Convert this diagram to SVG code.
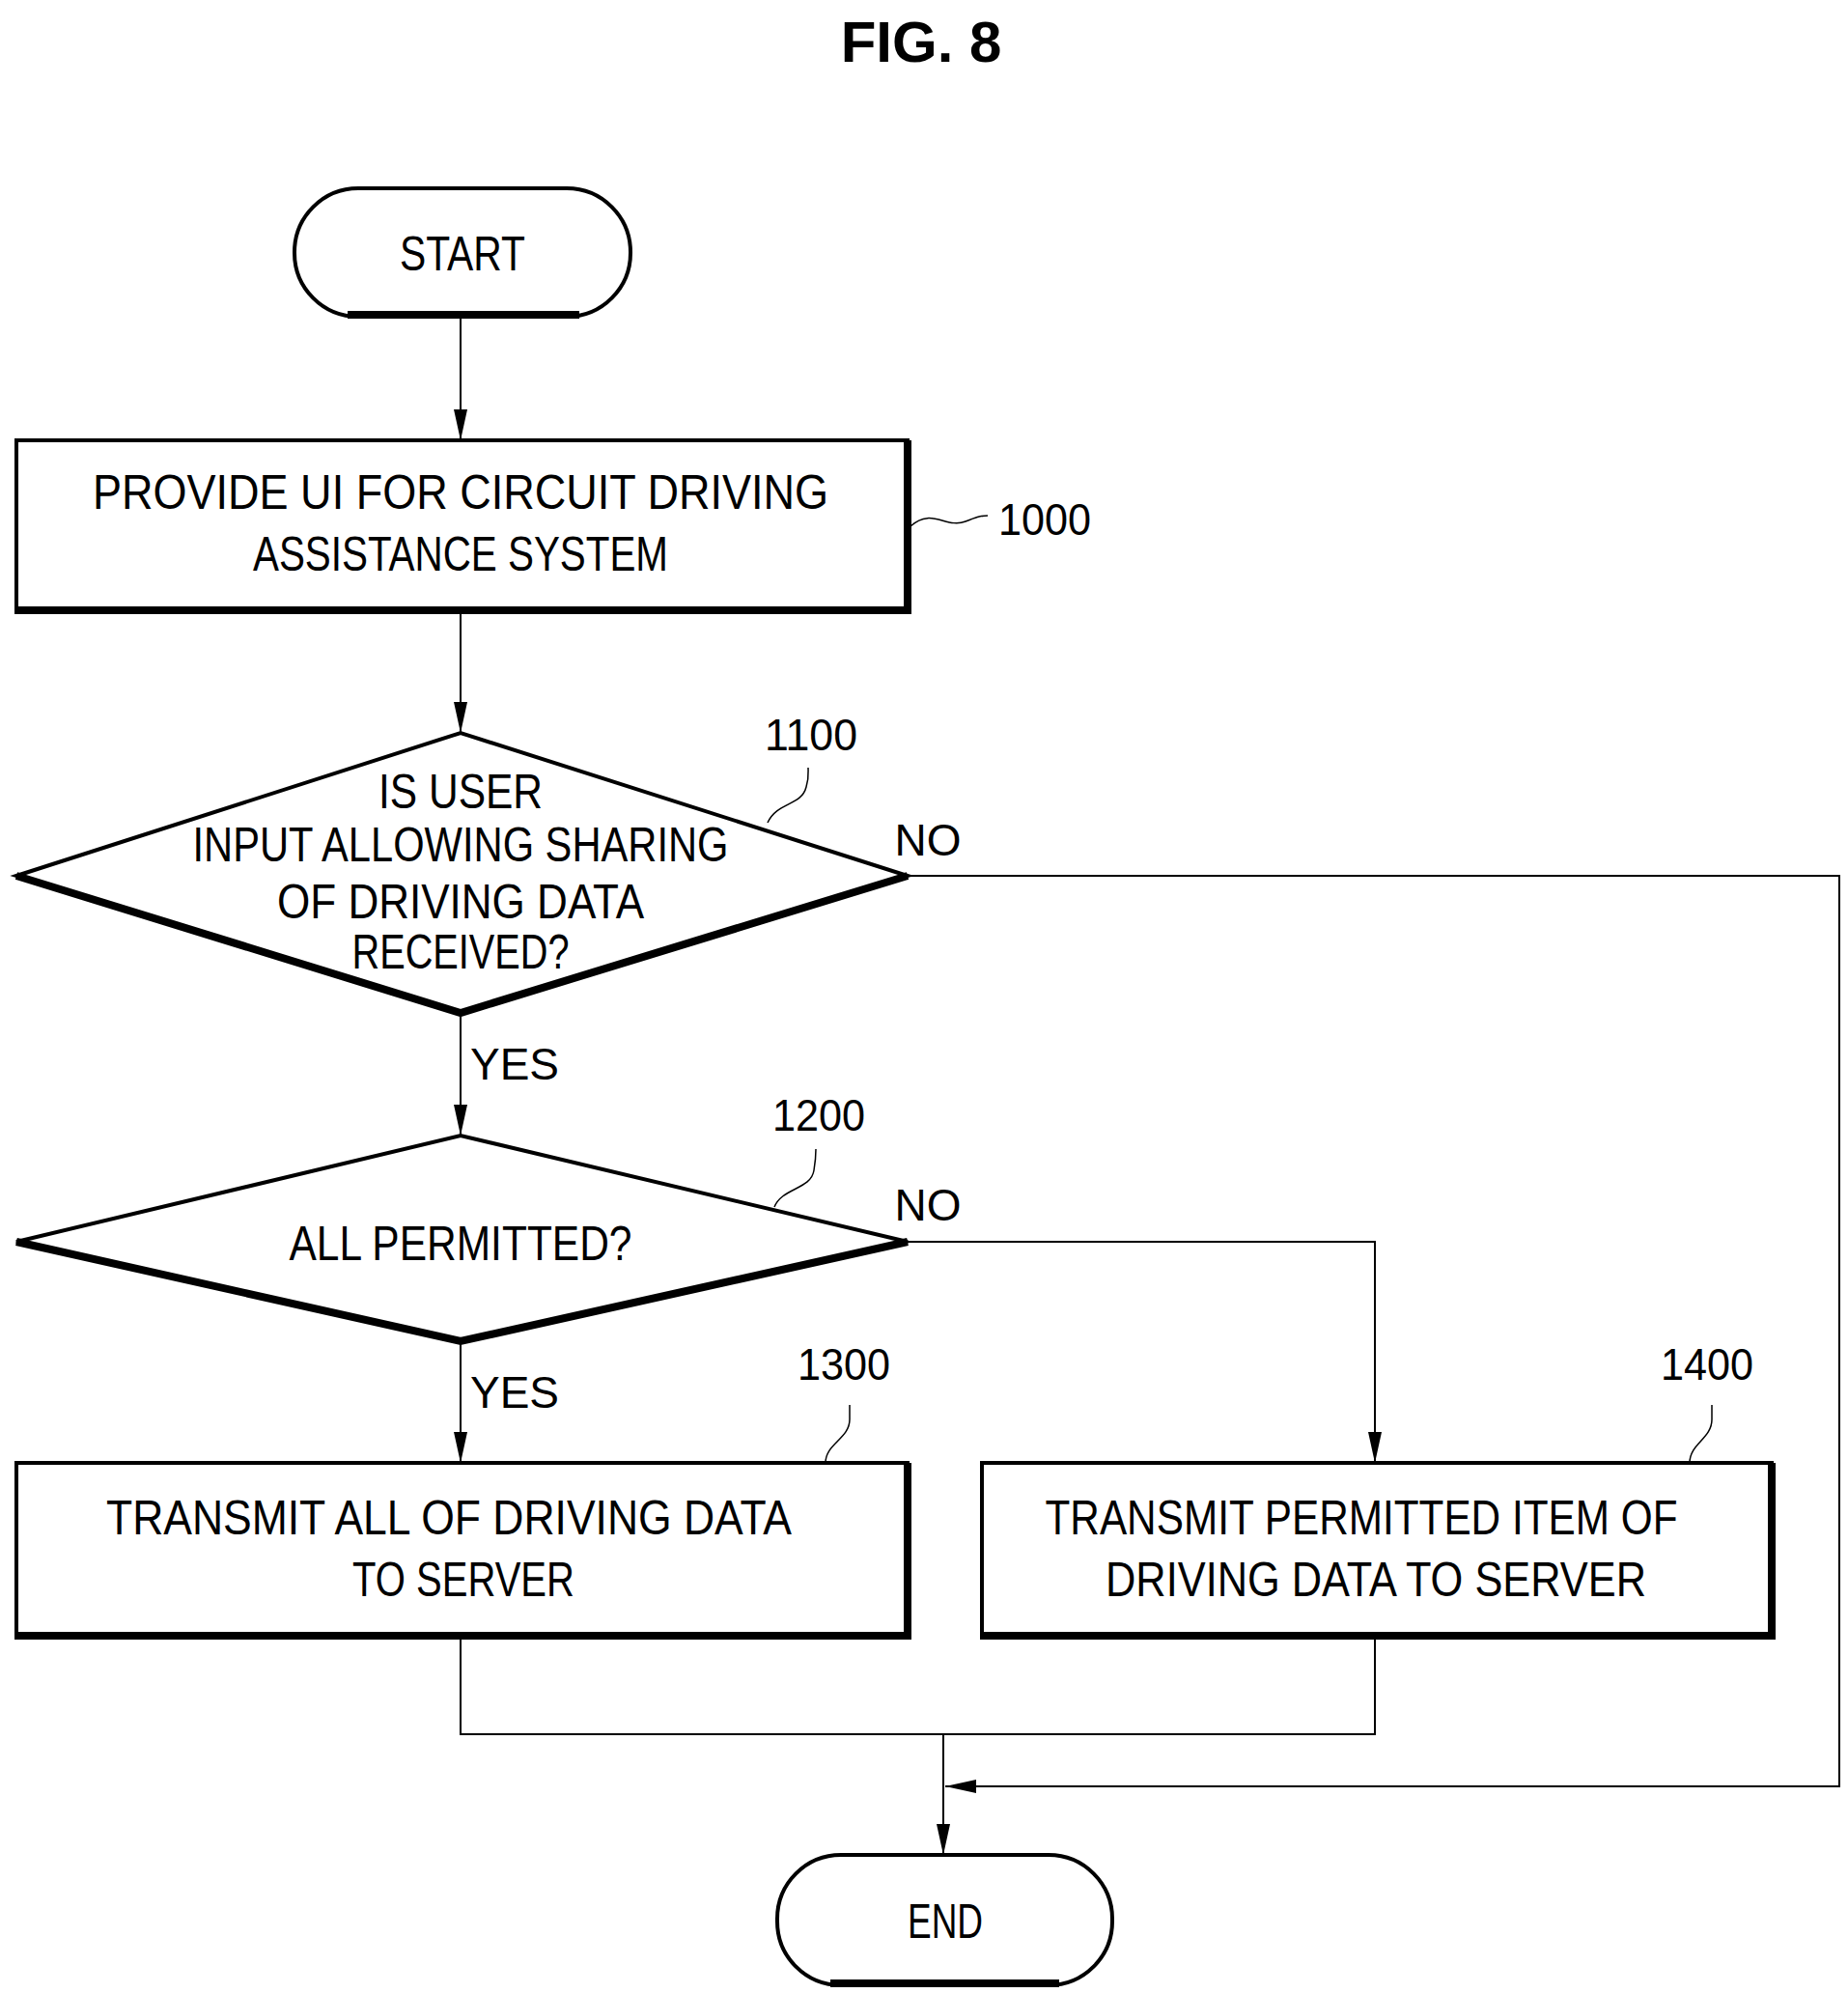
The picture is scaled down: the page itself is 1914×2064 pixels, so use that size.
<svg xmlns="http://www.w3.org/2000/svg" width="1914" height="2064" viewBox="0 0 1914 2064">
<defs>
<marker id="ah" viewBox="0 0 32 16" refX="32" refY="8" markerWidth="32" markerHeight="16" markerUnits="userSpaceOnUse" orient="auto"><path d="M0,1 L32,8 L0,15 Z" fill="#000"/></marker>
<style>
.t{font-family:"Liberation Sans",Arial,sans-serif;font-size:50px;fill:#000;text-anchor:middle}
.n{font-family:"Liberation Sans",Arial,sans-serif;font-size:46px;fill:#000;text-anchor:middle}
.s{fill:#fff;stroke:#000;stroke-width:4}
.sh{fill:none;stroke:#000;stroke-width:8}
.c{fill:none;stroke:#000;stroke-width:2}
.l{fill:none;stroke:#000;stroke-width:1.5}
</style>
</defs>
<rect width="1914" height="2064" fill="#fff"/>
<text x="954" y="64" style="font-family:'Liberation Sans',Arial,sans-serif;font-size:60px;font-weight:bold;text-anchor:middle">FIG. 8</text>
<g id="connectors">
<path class="c" d="M477,328 V456" marker-end="url(#ah)"/>
<path class="c" d="M477,634 V759" marker-end="url(#ah)"/>
<path class="c" d="M477,1049 V1176" marker-end="url(#ah)"/>
<path class="c" d="M477,1389 V1515" marker-end="url(#ah)"/>
<path class="c" d="M940,1286 H1424 V1515" marker-end="url(#ah)"/>
<path class="c" d="M940,907 H1905 V1850 H979" marker-end="url(#ah)"/>
<path class="c" d="M477,1696 V1796 H1424 V1696"/>
<path class="c" d="M977,1796 V1921" marker-end="url(#ah)"/>
</g>
<g id="start"><rect class="s" x="305" y="195" width="348" height="133" rx="66"/><path class="sh" d="M360,326 H600"/><text class="t" x="479" y="280" textLength="130" lengthAdjust="spacingAndGlyphs">START</text></g>
<g id="n1000"><rect class="s" x="17" y="456" width="923" height="178"/><path class="sh" d="M17,632 H940 V456"/>
<text class="t" x="477" y="527" textLength="762" lengthAdjust="spacingAndGlyphs">PROVIDE UI FOR CIRCUIT DRIVING</text>
<text class="t" x="477" y="591" textLength="430" lengthAdjust="spacingAndGlyphs">ASSISTANCE SYSTEM</text>
<path class="l" d="M943,545 C965,525 980,548 1000,540 C1010,536 1015,534 1023,534"/>
<text class="n" x="1082" y="554" textLength="96" lengthAdjust="spacingAndGlyphs">1000</text></g>
<g id="n1100"><path class="s" d="M17,907 L477,759 L940,907 L477,1049 Z"/><path class="sh" d="M17,907 L477,1049 L940,907"/>
<text class="t" x="477" y="837" textLength="170" lengthAdjust="spacingAndGlyphs">IS USER</text>
<text class="t" x="477" y="892" textLength="555" lengthAdjust="spacingAndGlyphs">INPUT ALLOWING SHARING</text>
<text class="t" x="477" y="951" textLength="380" lengthAdjust="spacingAndGlyphs">OF DRIVING DATA</text>
<text class="t" x="477" y="1003" textLength="225" lengthAdjust="spacingAndGlyphs">RECEIVED?</text>
<path class="l" d="M795,852 C805,830 830,835 835,815 C838,805 837,800 837,795"/>
<text class="n" x="840" y="777" textLength="96" lengthAdjust="spacingAndGlyphs">1100</text>
<text class="n" x="961" y="886">NO</text>
<text class="n" x="533" y="1118">YES</text></g>
<g id="n1200"><path class="s" d="M17,1286 L477,1176 L940,1286 L477,1389 Z"/><path class="sh" d="M17,1286 L477,1389 L940,1286"/>
<text class="t" x="477" y="1305" textLength="355" lengthAdjust="spacingAndGlyphs">ALL PERMITTED?</text>
<path class="l" d="M802,1250 C810,1230 840,1232 843,1212 C845,1200 845,1195 845,1190"/>
<text class="n" x="848" y="1171" textLength="96" lengthAdjust="spacingAndGlyphs">1200</text>
<text class="n" x="961" y="1264">NO</text>
<text class="n" x="533" y="1458">YES</text></g>
<g id="n1300"><rect class="s" x="17" y="1515" width="923" height="181"/><path class="sh" d="M17,1694 H940 V1515"/>
<text class="t" x="465" y="1589" textLength="710" lengthAdjust="spacingAndGlyphs">TRANSMIT ALL OF DRIVING DATA</text>
<text class="t" x="480" y="1653" textLength="230" lengthAdjust="spacingAndGlyphs">TO SERVER</text>
<path class="l" d="M855,1515 C855,1495 880,1490 880,1470 V1455"/>
<text class="n" x="874" y="1429" textLength="96" lengthAdjust="spacingAndGlyphs">1300</text></g>
<g id="n1400"><rect class="s" x="1017" y="1515" width="818" height="181"/><path class="sh" d="M1017,1694 H1835 V1515"/>
<text class="t" x="1410" y="1589" textLength="655" lengthAdjust="spacingAndGlyphs">TRANSMIT PERMITTED ITEM OF</text>
<text class="t" x="1425" y="1653" textLength="560" lengthAdjust="spacingAndGlyphs">DRIVING DATA TO SERVER</text>
<path class="l" d="M1750,1515 C1750,1495 1773,1490 1773,1470 V1455"/>
<text class="n" x="1768" y="1429" textLength="96" lengthAdjust="spacingAndGlyphs">1400</text></g>
<g id="end"><rect class="s" x="805" y="1921" width="347" height="135" rx="66"/><path class="sh" d="M860,2054 H1097"/><text class="t" x="979" y="2007" textLength="78" lengthAdjust="spacingAndGlyphs">END</text></g>
</svg>
